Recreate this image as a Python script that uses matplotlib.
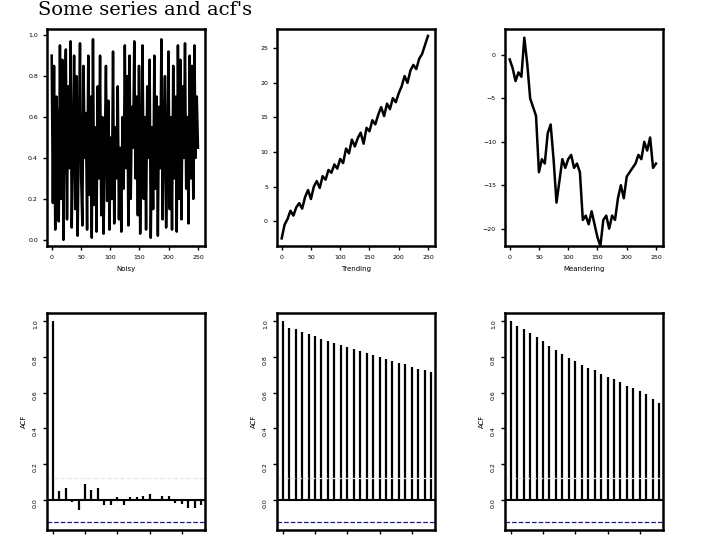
import numpy as np
import matplotlib.pyplot as plt

# series (coarse)
noisy = [0.9, 0.18, 0.85, 0.05, 0.7, 0.55, 0.09, 0.95, 0.2, 0.88, 0.0, 0.6, 0.93, 0.1, 0.75, 0.35,
         0.97, 0.06, 0.45, 0.9, 0.15, 0.8, 0.02, 0.5, 0.96, 0.3, 0.07, 0.85, 0.4, 0.62, 0.05, 0.9,
         0.22, 0.7, 0.01, 0.98, 0.17, 0.55, 0.04, 0.75, 0.3, 0.9, 0.12, 0.6, 0.03, 0.45, 0.85, 0.19,
         0.68, 0.05, 0.5, 0.2, 0.92, 0.08, 0.55, 0.3, 0.75, 0.1, 0.45, 0.04, 0.6, 0.25, 0.95, 0.35,
         0.8, 0.07, 0.9, 0.2, 0.65, 0.45, 0.97, 0.3, 0.7, 0.12, 0.85, 0.03, 0.5, 0.95, 0.2, 0.6,
         0.05, 0.75, 0.4, 0.88, 0.01, 0.55, 0.15, 0.9, 0.25, 0.7, 0.02, 0.65, 0.35, 0.98, 0.1, 0.5,
         0.8, 0.06, 0.45, 0.92, 0.15, 0.6, 0.05, 0.85, 0.3, 0.7, 0.04, 0.95, 0.2, 0.88, 0.1, 0.75,
         0.4, 0.96, 0.25, 0.6, 0.08, 0.9, 0.3, 0.85, 0.2, 0.95, 0.4, 0.7, 0.45]
trending = [-2.5, -0.5, 0.3, 1.5, 0.8, 2.0, 2.6, 1.8, 3.5, 4.5, 3.2, 5.0, 5.8, 4.8, 6.5, 6.0,
            7.4, 7.0, 8.2, 7.6, 9.0, 8.4, 10.5, 9.8, 11.8, 10.8, 12.0, 12.8, 11.2, 13.5, 13.0,
            14.6, 14.0, 15.4, 16.5, 15.2, 17.0, 16.2, 17.8, 17.2, 18.5, 19.5, 21.0, 20.0, 21.8,
            22.6, 22.0, 23.5, 24.2, 25.5, 26.8]
meander = [-0.5, -1.5, -3.0, -2.0, -2.5, 2.0, -1.0, -5.0, -6.0, -7.0, -13.5, -12.0, -12.5,
           -9.0, -8.0, -12.0, -17.0, -14.5, -12.0, -13.0, -12.0, -11.5, -13.0, -12.5, -13.5,
           -19.0, -18.5, -19.5, -18.0, -19.5, -21.0, -22.0, -19.0, -18.5, -20.0, -18.5, -19.0,
           -16.5, -15.0, -16.5, -14.0, -13.5, -13.0, -12.5, -11.5, -12.0, -10.0, -11.0, -9.5,
           -13.0, -12.5]

acf_noisy = [1.0, 0.05, 0.065, -0.01, -0.055, 0.09, 0.055, 0.065, -0.025, -0.025, 0.02, -0.025,
             0.02, 0.015, 0.025, 0.035, 0.005, 0.025, 0.025, -0.015, -0.02, -0.045, -0.045, -0.03]
acf_trend = [1.0, 0.96, 0.955, 0.94, 0.925, 0.915, 0.9, 0.89, 0.875, 0.865, 0.855, 0.845, 0.835,
             0.82, 0.81, 0.8, 0.79, 0.775, 0.765, 0.76, 0.745, 0.735, 0.725, 0.715]
acf_meander = [1.0, 0.975, 0.955, 0.935, 0.91, 0.89, 0.86, 0.84, 0.815, 0.795, 0.775, 0.755,
               0.74, 0.725, 0.705, 0.69, 0.675, 0.66, 0.64, 0.625, 0.61, 0.59, 0.565, 0.545]

names = ['Noisy', 'Trending', 'Meandering']
series = [noisy, trending, meander]
acfs = [acf_noisy, acf_trend, acf_meander]
ylims = [(-0.03, 1.03), (-3.6, 27.8), (-22, 3)]
yticks = [np.arange(0, 1.01, 0.2), np.arange(0, 26, 5), np.arange(-20, 1, 5)]

W, H = 720, 540
fig = plt.figure(figsize=(7.2, 5.4), dpi=100)
fig.text(38 / W, 1 - 1 / H, "Some series and acf's", family='DejaVu Serif', fontsize=14,
         va='top', ha='left')
lefts = [47, 277, 505]
for i in range(3):
    x0 = lefts[i]
    ax = fig.add_axes([x0 / W, 1 - 246 / H, 158 / W, 217 / H])
    y = series[i]
    t = np.linspace(0, 250, len(y))
    ax.plot(t, y, color='black', lw=1.8)
    ax.set_xlim(-8, 262)
    ax.set_ylim(*ylims[i])
    ax.set_xticks(range(0, 251, 50))
    ax.set_yticks(yticks[i])
    ax.set_xlabel(names[i], fontsize=5)
    ax2 = fig.add_axes([x0 / W, 1 - 530 / H, 158 / W, 217 / H])
    a = acfs[i]
    lags = np.arange(len(a))
    ax2.vlines(lags, 0, a, color='black', lw=1.6)
    ax2.axhline(0, color='black', lw=1.5)
    ax2.axhline(-0.123, color='#1a1a8c', lw=0.9, ls='--')
    ax2.axhline(0.125, color='#e6e6f5', lw=0.9, ls='--')
    ax2.set_xlim(-0.9, 23.6)
    ax2.set_ylim(-0.167, 1.045)
    ax2.set_xticks(range(0, 21, 5))
    ax2.set_xticklabels([])
    ax2.set_yticks(np.arange(0, 1.01, 0.2))
    ax2.set_ylabel('ACF', fontsize=5)
    for a_ in (ax, ax2):
        for s in a_.spines.values():
            s.set_linewidth(1.8)
        a_.tick_params(labelsize=4.5, length=3, width=1)
    ax2.tick_params(axis='y', labelrotation=90)
fig.savefig('out.png', dpi=100)
